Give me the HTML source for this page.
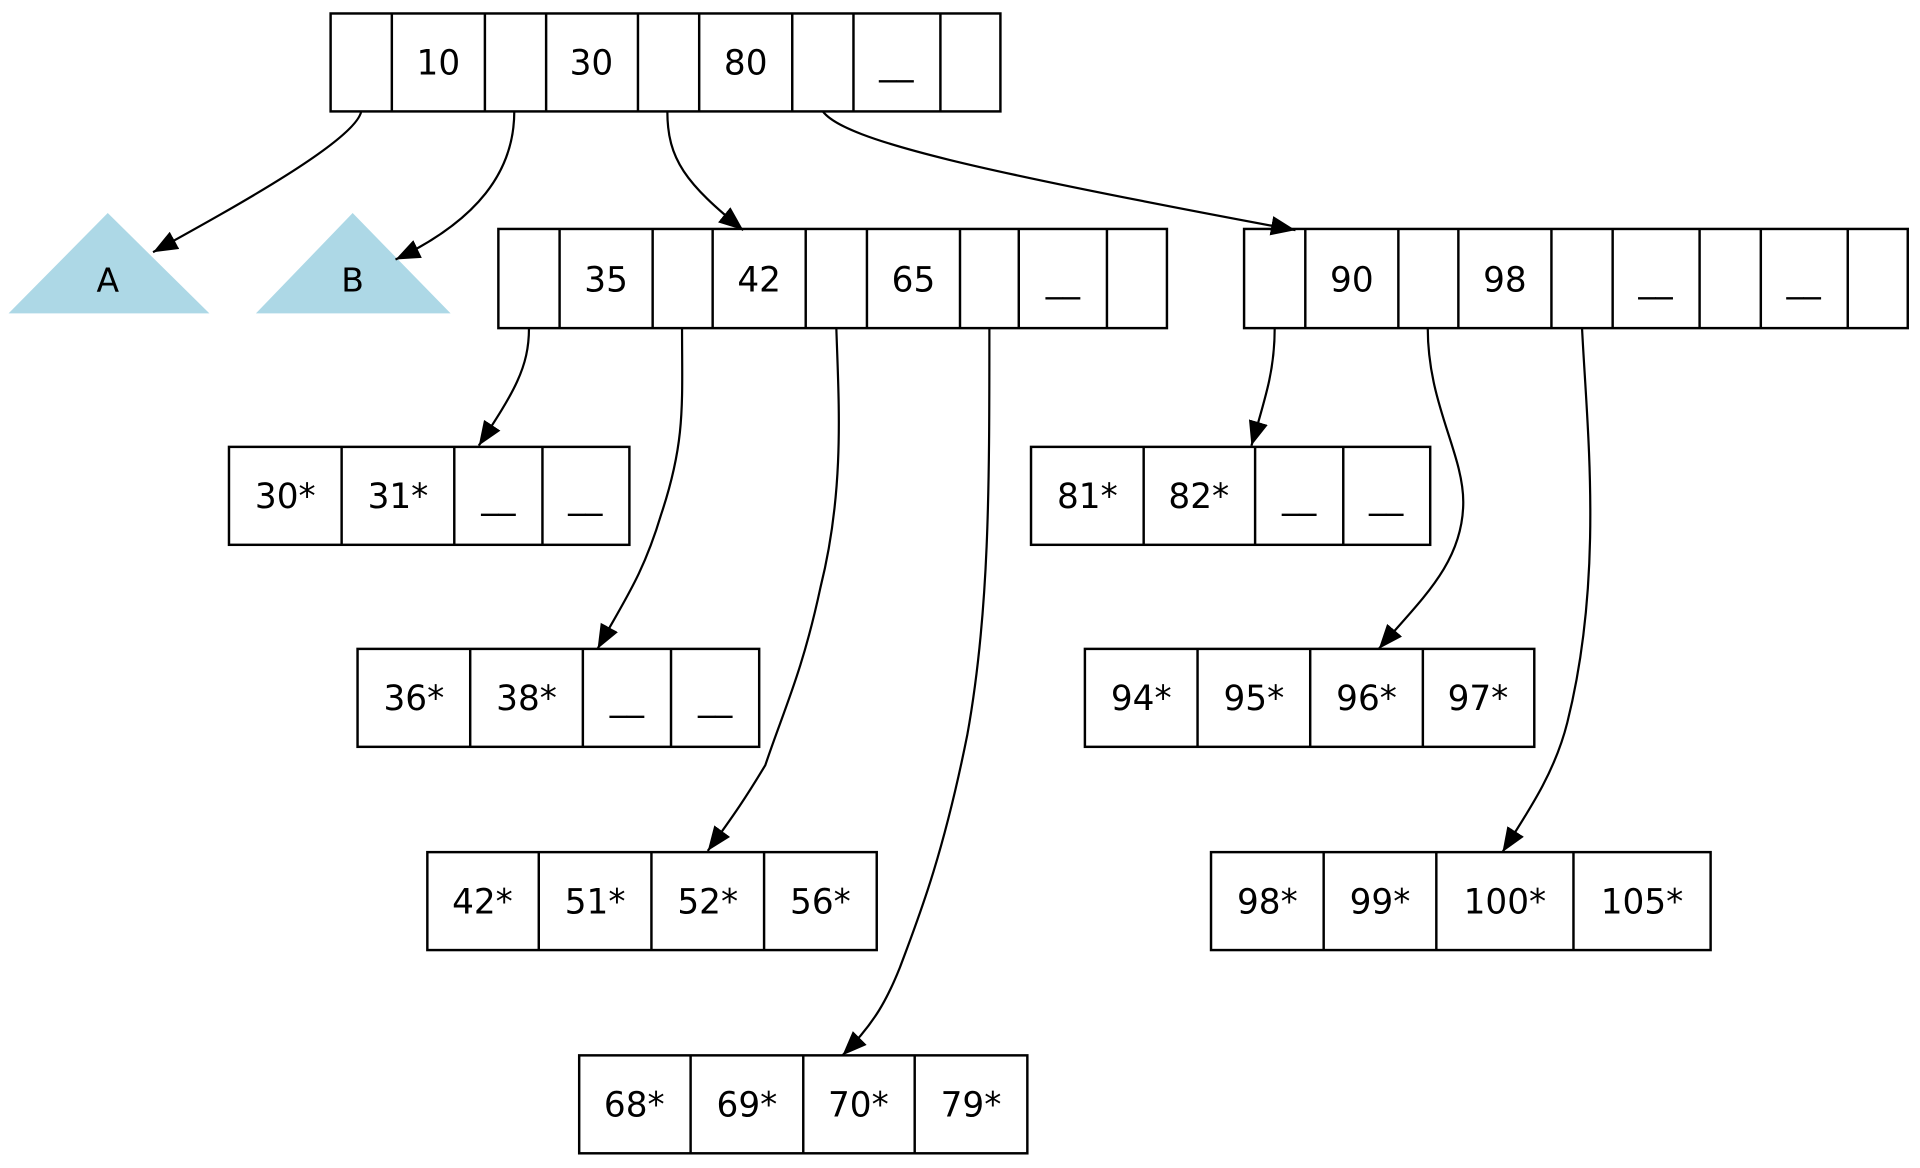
<!DOCTYPE html>
<html><head><meta charset="utf-8"><style>html,body{margin:0;padding:0;background:#fff}svg{display:block}</style></head>
<body>
<svg width="1920" height="1168" viewBox="0 0 1568 954" preserveAspectRatio="none" xmlns="http://www.w3.org/2000/svg">
<defs><marker id="a" viewBox="0 0 20 16" refX="20" refY="8" markerWidth="20" markerHeight="16" markerUnits="userSpaceOnUse" orient="auto"><path d="M0,0 L20,8 L0,16 z" fill="#000"/></marker></defs>
<polygon points="88,174 7,256 171,256" fill="#add8e6"/>
<polygon points="288,174 209,256 368,256" fill="#add8e6"/>
<g font-family="DejaVu Sans, Liberation Sans, sans-serif" font-size="27" text-anchor="middle" fill="#000">
<text x="88" y="238">A</text>
<text x="288" y="238">B</text>
</g>
<g fill="none" stroke="#000" stroke-width="2">
<rect x="270" y="11" width="547" height="80"/>
<path d="M320,11V91M396,11V91M446,11V91M521,11V91M571,11V91M647,11V91M697,11V91M768,11V91"/>
<rect x="407" y="187" width="546" height="81"/>
<path d="M457,187V268M533,187V268M582,187V268M658,187V268M708,187V268M784,187V268M832,187V268M904,187V268"/>
<rect x="1016" y="187" width="542" height="81"/>
<path d="M1066,187V268M1142,187V268M1191,187V268M1267,187V268M1317,187V268M1388,187V268M1438,187V268M1509,187V268"/>
<rect x="187" y="365" width="327" height="80"/>
<path d="M279,365V445M371,365V445M443,365V445"/>
<rect x="292" y="530" width="328" height="80"/>
<path d="M384,530V610M476,530V610M548,530V610"/>
<rect x="349" y="696" width="367" height="80"/>
<path d="M440,696V776M532,696V776M624,696V776"/>
<rect x="473" y="862" width="366" height="80"/>
<path d="M564,862V942M656,862V942M747,862V942"/>
<rect x="842" y="365" width="326" height="80"/>
<path d="M934,365V445M1025,365V445M1097,365V445"/>
<rect x="886" y="530" width="367" height="80"/>
<path d="M978,530V610M1070,530V610M1162,530V610"/>
<rect x="989" y="696" width="408" height="80"/>
<path d="M1081,696V776M1173,696V776M1285,696V776"/>
</g>
<g font-family="DejaVu Sans, Liberation Sans, sans-serif" font-size="28" text-anchor="middle" fill="#000">
<text x="358" y="61">10</text><text x="483" y="61">30</text><text x="609" y="61">80</text><text x="732" y="61">__</text>
<text x="495" y="238">35</text><text x="620" y="238">42</text><text x="746" y="238">65</text><text x="868" y="238">__</text>
<text x="1104" y="238">90</text><text x="1229" y="238">98</text><text x="1352" y="238">__</text><text x="1473" y="238">__</text>
<text x="233" y="415">30*</text><text x="325" y="415">31*</text><text x="407" y="415">__</text><text x="478" y="415">__</text>
<text x="338" y="580">36*</text><text x="430" y="580">38*</text><text x="512" y="580">__</text><text x="584" y="580">__</text>
<text x="394" y="746">42*</text><text x="486" y="746">51*</text><text x="578" y="746">52*</text><text x="670" y="746">56*</text>
<text x="518" y="912">68*</text><text x="610" y="912">69*</text><text x="701" y="912">70*</text><text x="793" y="912">79*</text>
<text x="888" y="415">81*</text><text x="979" y="415">82*</text><text x="1061" y="415">__</text><text x="1132" y="415">__</text>
<text x="932" y="580">94*</text><text x="1024" y="580">95*</text><text x="1116" y="580">96*</text><text x="1207" y="580">97*</text>
<text x="1035" y="746">98*</text><text x="1127" y="746">99*</text><text x="1229" y="746">100*</text><text x="1341" y="746">105*</text>
</g>
<g fill="none" stroke="#000" stroke-width="1.8" marker-end="url(#a)">
<path d="M295,91 C290,115 190,170 125,206"/>
<path d="M420,91 C420,140 390,180 323,212"/>
<path d="M545,91 C545,130 560,150 607,188"/>
<path d="M672,91 C690,115 800,140 1058,188"/>
<path d="M432,268 C432,300 420,320 391,364"/>
<path d="M557,268 C557,330 560,360 540,420 C525,470 510,490 488,530"/>
<path d="M683,268 C685,330 690,400 670,480 C655,550 640,580 625,625 C610,650 600,665 578,695"/>
<path d="M808,268 C808,400 808,500 790,600 C770,700 750,750 735,790 C725,815 715,835 688,862"/>
<path d="M1041,268 C1041,300 1035,320 1022,364"/>
<path d="M1166,268 C1166,330 1195,370 1195,410 C1195,460 1160,490 1126,530"/>
<path d="M1292,268 C1296,350 1310,470 1280,590 C1270,630 1250,660 1227,696"/>
</g>
</svg>
</body></html>
